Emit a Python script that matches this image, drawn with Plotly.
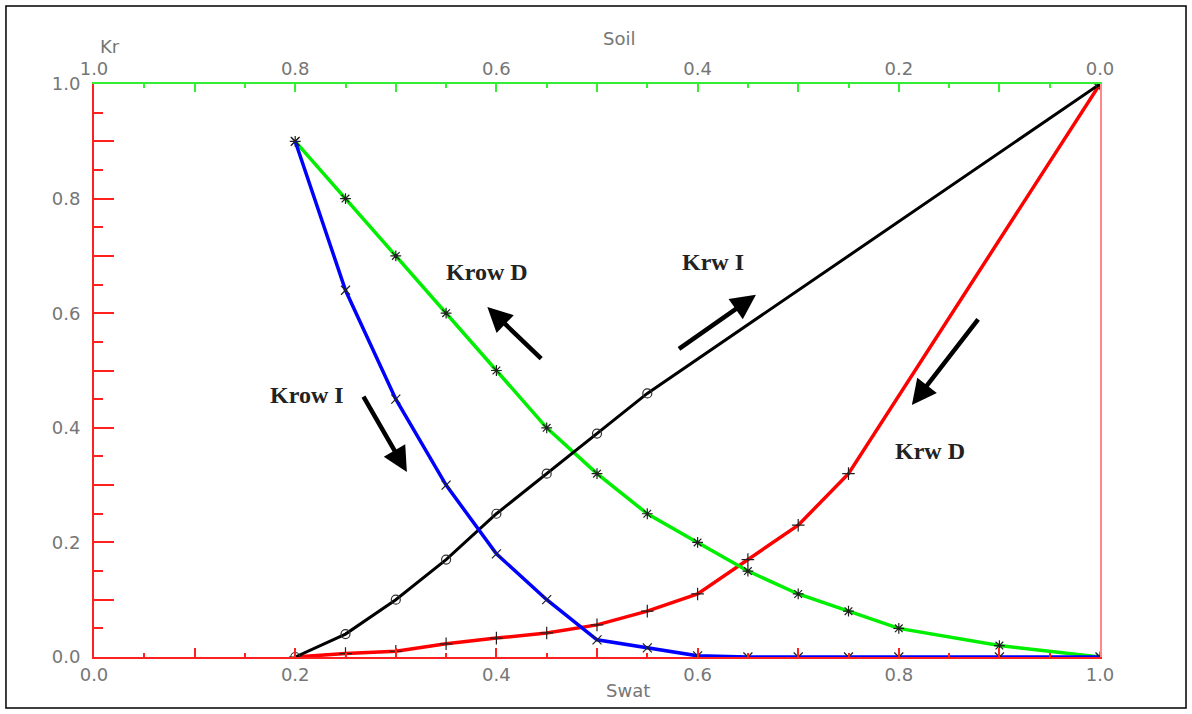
import plotly.graph_objects as go

# Water saturation sample points
swat = [0.2, 0.25, 0.3, 0.35, 0.4, 0.45, 0.5, 0.55, 0.6, 0.65, 0.7, 0.75, 0.8, 0.9, 1.0]

# Oil relative permeability, drainage (green) and imbibition (blue)
krow_d = [0.90, 0.80, 0.70, 0.60, 0.50, 0.40, 0.32, 0.25, 0.20, 0.15, 0.11, 0.08, 0.05, 0.02, 0.0]
krow_i = [0.90, 0.64, 0.45, 0.30, 0.18, 0.10, 0.03, 0.016, 0.002, 0.0, 0.0, 0.0, 0.0, 0.0, 0.0]

# Water relative permeability, imbibition (black)
swat_krw_i = [0.2, 0.25, 0.3, 0.35, 0.4, 0.45, 0.5, 0.55, 1.0]
krw_i = [0.0, 0.04, 0.10, 0.17, 0.25, 0.32, 0.39, 0.46, 1.0]

# Water relative permeability, drainage (red)
swat_krw_d = [0.2, 0.25, 0.3, 0.35, 0.4, 0.45, 0.5, 0.55, 0.6, 0.65, 0.7, 0.75, 1.0]
krw_d = [0.0, 0.006, 0.01, 0.023, 0.033, 0.042, 0.056, 0.08, 0.11, 0.17, 0.23, 0.32, 1.0]

# Curve labels with arrow (head x, head y, tail x, tail y) and label position
labels = ["Krow D", "Krow I", "Krw I", "Krw D"]
label_xy = [(0.391, 0.672), (0.212, 0.457), (0.615, 0.690), (0.831, 0.360)]
arrows = [
    (0.391, 0.611, 0.446, 0.518),
    (0.311, 0.323, 0.267, 0.457),
    (0.658, 0.632, 0.580, 0.536),
    (0.813, 0.440, 0.880, 0.592),
]

axis_ticks = [0.0, 0.1, 0.2, 0.3, 0.4, 0.5, 0.6, 0.7, 0.8, 0.9, 1.0]
axis_text = ["0.0", "", "0.2", "", "0.4", "", "0.6", "", "0.8", "", "1.0"]
minor_ticks = [0.05, 0.15, 0.25, 0.35, 0.45, 0.55, 0.65, 0.75, 0.85, 0.95]

tick_font = dict(family="DejaVu Sans", size=18, color="#767676")
mark = dict(color="#202020", size=9, line=dict(color="#202020", width=1.2))

fig = go.Figure()
fig.add_trace(go.Scatter(x=swat_krw_d, y=krw_d, mode="lines+markers",
                         line=dict(color="#ff0000", width=3.5),
                         marker=dict(symbol="cross-thin-open", **mark)))
fig.add_trace(go.Scatter(x=swat, y=krow_d, mode="lines+markers",
                         line=dict(color="#00ee00", width=3.5),
                         marker=dict(symbol="asterisk-open", **mark)))
fig.add_trace(go.Scatter(x=swat_krw_i, y=krw_i, mode="lines+markers",
                         line=dict(color="#000000", width=3),
                         marker=dict(symbol="circle-open", color="#303030", size=9,
                                     line=dict(color="#303030", width=1.2))))
fig.add_trace(go.Scatter(x=swat, y=krow_i, mode="lines+markers",
                         line=dict(color="#0000ff", width=3.5),
                         marker=dict(symbol="x-thin-open", **mark)))
# Invisible traces carrying the top (Soil) and right axes
fig.add_trace(go.Scatter(x=[1.0, 0.0], y=[0, 0], xaxis="x2", yaxis="y2",
                         mode="lines", line=dict(width=0), hoverinfo="skip"))

for (hx, hy, tx, ty) in arrows:
    fig.add_annotation(x=hx, y=hy, ax=tx, ay=ty, xref="x", yref="y",
                       axref="x", ayref="y", text="", showarrow=True,
                       arrowhead=2, arrowsize=1.1, arrowwidth=4.5,
                       arrowcolor="#000000", standoff=0, startstandoff=0)

for txt, (lx, ly) in zip(labels, label_xy):
    fig.add_annotation(x=lx, y=ly, xref="x", yref="y", text="<b>" + txt + "</b>",
                       showarrow=False,
                       font=dict(family="Liberation Serif", size=24, color="#222222"))

for txt, px, py in [("Kr", 0.016, 1.065), ("Soil", 0.522, 1.080), ("Swat", 0.531, -0.058)]:
    fig.add_annotation(x=px, y=py, xref="paper", yref="paper", text=txt,
                       xanchor="center", yanchor="middle",
                       showarrow=False, font=tick_font)

# Outer frame around the figure
fig.add_shape(type="rect", xref="paper", yref="paper",
              x0=-0.0875, x1=1.0855, y0=-0.089, y1=1.136,
              line=dict(color="#000000", width=1.5))

fig.update_layout(
    width=1192, height=714,
    margin=dict(l=94, r=92, t=84, b=57),
    plot_bgcolor="white", paper_bgcolor="white",
    showlegend=False,
    xaxis=dict(range=[0, 1], showgrid=False, zeroline=False,
               showline=True, linecolor="#ff2020", linewidth=2,
               ticks="inside", ticklen=9, tickwidth=1.5, tickcolor="#ff2020",
               tickmode="array", tickvals=axis_ticks, ticktext=axis_text,
               tickfont=tick_font,
               minor=dict(tickmode="array", tickvals=minor_ticks, ticks="inside",
                          ticklen=4, tickcolor="#ff2020", tickwidth=1.5)),
    xaxis2=dict(range=[1, 0], overlaying="x", side="top", showgrid=False,
                zeroline=False, showline=True, linecolor="#33ee33", linewidth=2,
                ticks="inside", ticklen=8, tickwidth=1.5, tickcolor="#33ee33",
                tickmode="array", tickvals=axis_ticks, ticktext=axis_text,
                tickfont=tick_font,
                minor=dict(tickmode="array", tickvals=minor_ticks, ticks="inside",
                           ticklen=4, tickcolor="#33ee33", tickwidth=1.5)),
    yaxis=dict(range=[0, 1], showgrid=False, zeroline=False,
               showline=True, linecolor="#ff2020", linewidth=2,
               ticks="inside", ticklen=20, tickwidth=1.5, tickcolor="#ff2020",
               tickmode="array", tickvals=axis_ticks, ticktext=axis_text,
               tickfont=tick_font, ticklabelstandoff=8,
               minor=dict(tickmode="array", tickvals=minor_ticks, ticks="inside",
                          ticklen=9, tickcolor="#ff2020", tickwidth=1.5)),
    yaxis2=dict(range=[0, 1], overlaying="y", side="right", showgrid=False,
                zeroline=False, showline=True, linecolor="#ff8888", linewidth=1.5,
                ticks="", showticklabels=False),
)

fig.write_html("out.html")
